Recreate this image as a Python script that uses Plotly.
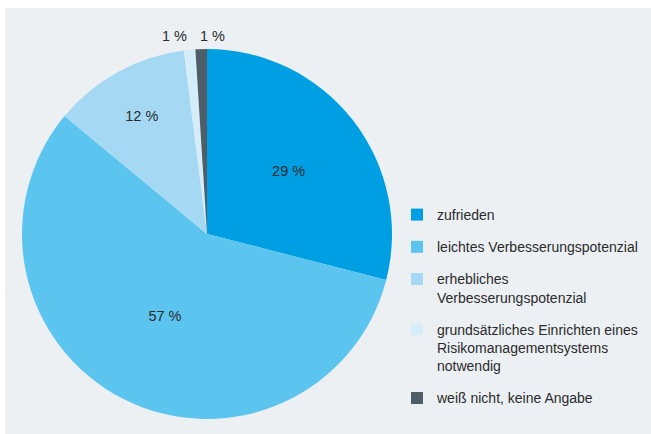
import plotly.graph_objects as go

W, H = 651, 434

categories = [
    "zufrieden",
    "leichtes Verbesserungspotenzial",
    "erhebliches<br>Verbesserungspotenzial",
    "grundsätzliches Einrichten eines<br>Risikomanagementsystems<br>notwendig",
    "weiß nicht, keine Angabe",
]
values = [29, 57, 12, 1, 1]
colors = ["#009fe3", "#5bc5f0", "#a5d9f3", "#d5ecf9", "#4e5e69"]

FONT = "Liberation Sans, Arial, sans-serif"
TEXT_COLOR = "#2b2b2b"

labels_text = [f"{v} %" for v in values]
# small slices get their labels outside, set as annotations
inside_text = [t if v >= 5 else "" for t, v in zip(labels_text, values)]

def px(x):
    return x / W

def py(y):
    return 1 - y / H

fig = go.Figure()
fig.add_trace(go.Pie(
    labels=categories,
    values=values,
    text=inside_text,
    textinfo="text",
    textposition="inside",
    insidetextorientation="horizontal",
    sort=False,
    direction="clockwise",
    rotation=0,
    marker=dict(colors=colors, line=dict(width=0)),
    textfont=dict(family=FONT, size=14.5, color=TEXT_COLOR),
    domain=dict(x=[px(22), px(392)], y=[py(419), py(49)]),
    hoverinfo="label+percent",
    showlegend=False,
))

# legend entries, one group each so the gap between entries can be set
for cat, col in zip(categories, colors):
    fig.add_trace(go.Scatter(
        x=[None], y=[None], mode="markers", name=cat, legendgroup=cat,
        marker=dict(symbol="square", size=12, color=col, line=dict(width=0)),
        hoverinfo="skip",
    ))

annotations = []
small = [(i, v) for i, v in enumerate(values) if v < 5]
small_x = [174, 212]
for (i, v), x in zip(small, small_x):
    annotations.append(dict(
        x=px(x), y=py(36), xref="paper", yref="paper",
        text=labels_text[i], showarrow=False,
        font=dict(family=FONT, size=14.5, color=TEXT_COLOR),
        xanchor="center", yanchor="middle",
    ))

fig.update_layout(
    width=W, height=H,
    margin=dict(l=0, r=0, t=0, b=0),
    paper_bgcolor="white",
    plot_bgcolor="rgba(0,0,0,0)",
    xaxis=dict(visible=False),
    yaxis=dict(visible=False),
    shapes=[dict(
        type="rect", xref="paper", yref="paper",
        x0=px(5), x1=1, y0=0, y1=py(8),
        fillcolor="#ecf0f3", line=dict(width=0), layer="below",
    )],
    annotations=annotations,
    legend=dict(
        x=px(397), y=py(199), xanchor="left", yanchor="top",
        bgcolor="rgba(0,0,0,0)",
        font=dict(family=FONT, size=14, color=TEXT_COLOR),
        itemwidth=30,
        valign="top",
        tracegroupgap=11,
        traceorder="grouped",
    ),
)

fig.write_html("out.html")
